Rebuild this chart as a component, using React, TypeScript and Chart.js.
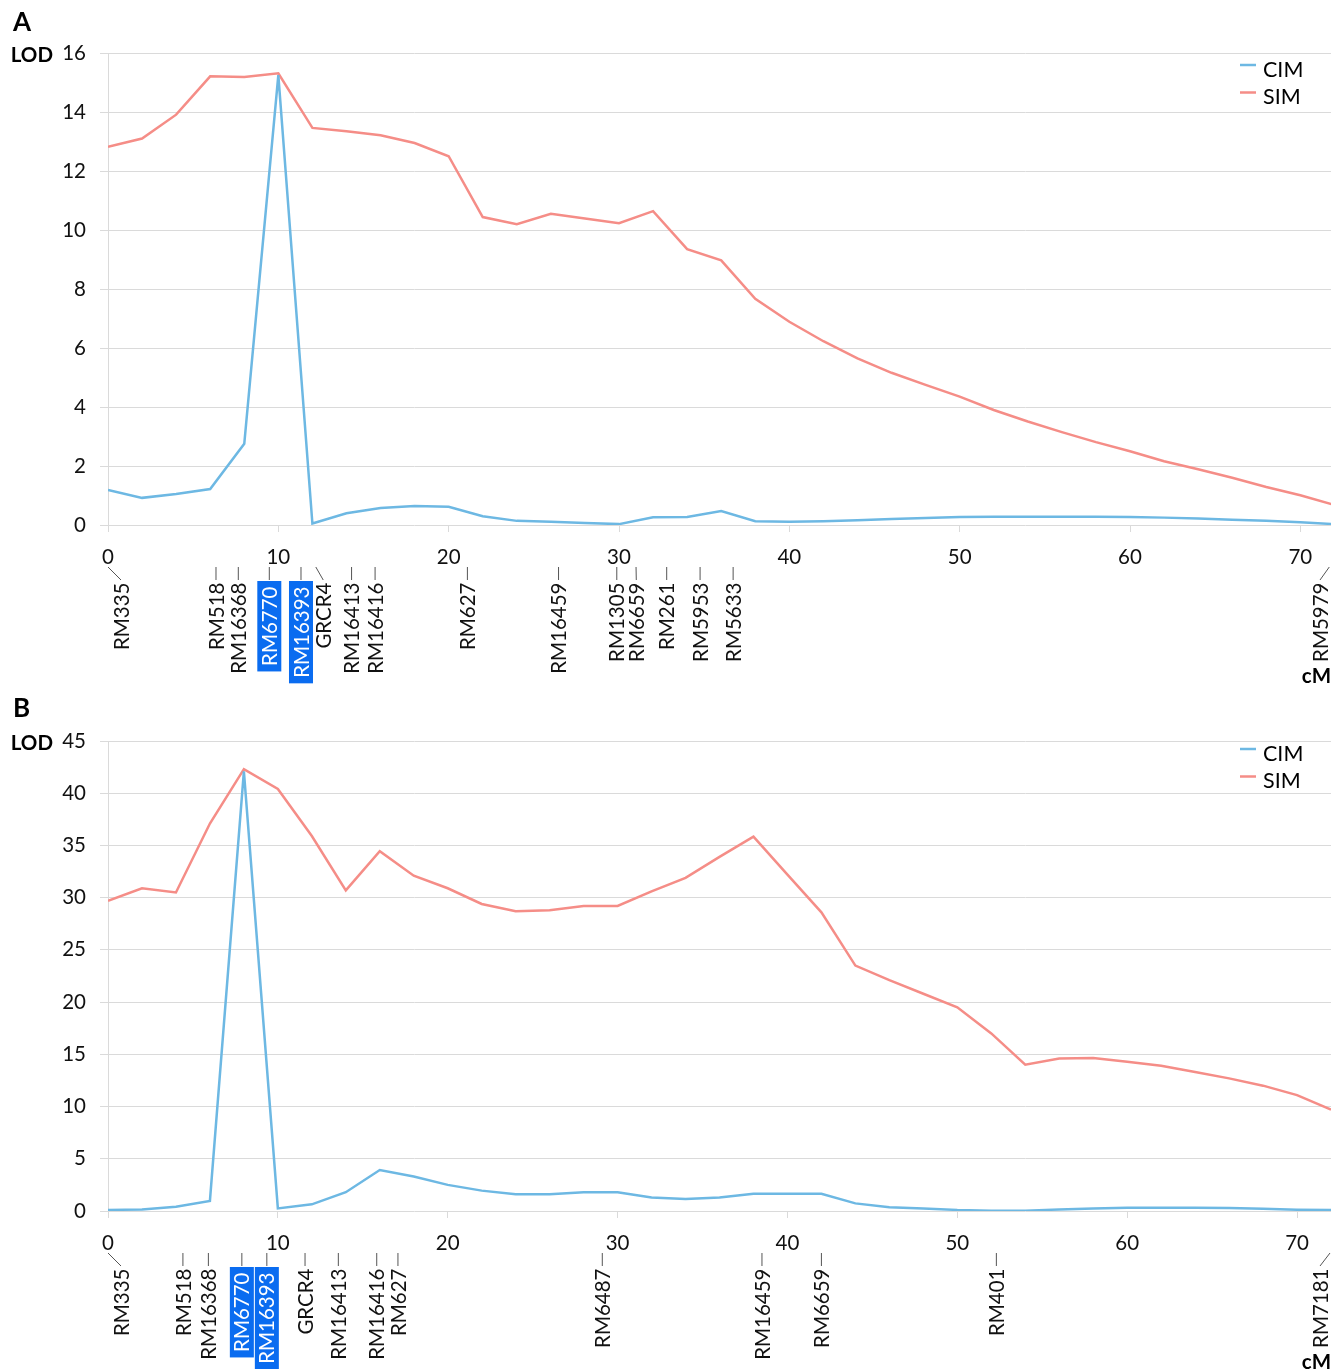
import React, { useEffect, useRef } from "react";
import { Chart, registerables } from "chart.js";

Chart.register(...registerables);

const FONT = "Lato, 'Open Sans', 'DejaVu Sans', sans-serif";

// ---------- data ----------
const POSITIONS_CM = [0, 2, 4, 6, 8, 10, 12, 14, 16, 18, 20, 22, 24, 26, 28, 30, 32, 34, 36, 38, 40, 42, 44, 46, 48, 50, 52, 54, 56, 58, 60, 62, 64, 66, 68, 70, 72];

const CIM_A = [1.19, 0.92, 1.05, 1.22, 2.75, 15.25, 0.05, 0.4, 0.58, 0.64, 0.62, 0.3, 0.14, 0.11, 0.07, 0.03, 0.26, 0.27, 0.47, 0.13, 0.11, 0.13, 0.16, 0.2, 0.24, 0.27, 0.28, 0.28, 0.28, 0.28, 0.27, 0.25, 0.22, 0.18, 0.14, 0.09, 0.03];
const SIM_A = [12.82, 13.1, 13.91, 15.21, 15.19, 15.31, 13.46, 13.35, 13.21, 12.95, 12.5, 10.44, 10.2, 10.55, 10.39, 10.23, 10.64, 9.35, 8.97, 7.67, 6.89, 6.23, 5.65, 5.16, 4.75, 4.35, 3.9, 3.51, 3.15, 2.81, 2.5, 2.16, 1.89, 1.6, 1.29, 1.01, 0.68];

const CIM_B = [0.1, 0.15, 0.4, 0.96, 42.1, 0.25, 0.64, 1.8, 3.93, 3.3, 2.5, 1.95, 1.6, 1.6, 1.8, 1.8, 1.3, 1.15, 1.3, 1.66, 1.64, 1.64, 0.73, 0.35, 0.25, 0.1, 0.03, 0.03, 0.15, 0.25, 0.3, 0.3, 0.3, 0.28, 0.22, 0.13, 0.1];
const SIM_B = [29.7, 30.9, 30.5, 37.1, 42.3, 40.4, 35.9, 30.7, 34.45, 32.1, 30.9, 29.4, 28.7, 28.8, 29.2, 29.2, 30.6, 31.9, 33.9, 35.85, 32.2, 28.6, 23.5, 22.1, 20.8, 19.5, 17.0, 14.0, 14.6, 14.65, 14.3, 13.9, 13.3, 12.7, 12.0, 11.1, 9.7];

const MARKERS_A = ["RM335", "RM518", "RM16368", "RM6770", "RM16393", "GRCR4", "RM16413", "RM16416", "RM627", "RM16459", "RM1305", "RM6659", "RM261", "RM5953", "RM5633", "RM5979"];
const MARKER_CM_A = [0, 6.34, 7.65, 9.47, 11.33, 12.2, 14.3, 15.68, 21.1, 26.45, 29.87, 31.0, 32.8, 34.76, 36.7, 71.7];

const MARKERS_B = ["RM335", "RM518", "RM16368", "RM6770", "RM16393", "GRCR4", "RM16413", "RM16416", "RM627", "RM6487", "RM16459", "RM6659", "RM401", "RM7181"];
const MARKER_CM_B = [0, 4.41, 5.91, 7.88, 9.35, 11.6, 13.56, 15.82, 17.07, 29.1, 38.5, 42.0, 52.3, 72.0];

const HIGHLIGHTED = ["RM6770", "RM16393"];

const SERIES_LABELS = ["CIM", "SIM"];
const Y_MAX_A = 16;
const Y_STEP_A = 2;
const Y_MAX_B = 45;
const Y_STEP_B = 5;
const X_STEP = 10;
const X_MAX_A = 71.8;
const X_MAX_B = 72;

// ---------- styles ----------
const CIM_COLOR = "#6db8e3";
const SIM_COLOR = "#f58d87";
const GRID = "#dadada";
const HILITE = "#0a6cf0";

type PanelCfg = {
  letter: string;
  cim: number[];
  sim: number[];
  markers: string[];
  markerCm: number[];
  yMax: number;
  yStep: number;
  xMax: number;
  canvasTop: number;
  canvasHeight: number;
  chartTop: number;
  chartBottom: number;
  yAxisWidth: number;
  letterY: number;
  legendOffset: number;
};

function makeDecor(cfg: PanelCfg) {
  return {
    id: "decor" + cfg.letter,
    afterDraw(chart: any) {
      const { ctx, chartArea, scales } = chart;
      const xs = scales.x;
      const { left, right, top, bottom } = chartArea;
      ctx.save();
      ctx.fillStyle = "#000";
      // panel letter
      ctx.font = `bold 26px ${FONT}`;
      ctx.textAlign = "left";
      ctx.textBaseline = "middle";
      ctx.fillText(cfg.letter, 13, cfg.letterY);
      // LOD title
      ctx.font = `bold 20.5px ${FONT}`;
      ctx.textAlign = "right";
      ctx.fillText("LOD", left - 55, top + 2);
      // cM title
      ctx.font = `bold 20.5px ${FONT}`;
      ctx.textAlign = "right";
      ctx.fillText("cM", right, bottom + 151);
      // legend
      chart.data.datasets.forEach((ds: any, i: number) => {
        const y = top + cfg.legendOffset + i * 27.5;
        ctx.strokeStyle = ds.borderColor;
        ctx.lineWidth = 2.5;
        ctx.beginPath();
        ctx.moveTo(right - 91, y - 5);
        ctx.lineTo(right - 75, y - 5);
        ctx.stroke();
        ctx.fillStyle = "#000";
        ctx.font = `21.5px ${FONT}`;
        ctx.textAlign = "left";
        ctx.textBaseline = "middle";
        ctx.fillText(ds.label, right - 68, y);
      });
      // markers
      const names = cfg.markers;
      const px = cfg.markerCm.map((c) => xs.getPixelForValue(c));
      const lo = left + 13;
      const hi = right - 11;
      const w = names.map((n) => (HIGHLIGHTED.includes(n) ? 25 : 19.5));
      const lab = px.map((p) => Math.min(hi, Math.max(lo, p)));
      for (let i = 1; i < lab.length; i++) {
        const g = (w[i] + w[i - 1]) / 2;
        if (lab[i] < lab[i - 1] + g) lab[i] = lab[i - 1] + g;
      }
      for (let i = lab.length - 2; i >= 0; i--) {
        const g = (w[i] + w[i + 1]) / 2;
        if (lab[i] > lab[i + 1] - g) lab[i] = lab[i + 1] - g;
      }
      ctx.font = `20.5px ${FONT}`;
      names.forEach((name, i) => {
        const tx = Math.min(right - 1, Math.max(left, px[i]));
        const lx = lab[i];
        ctx.strokeStyle = "#555";
        ctx.lineWidth = 1;
        ctx.beginPath();
        ctx.moveTo(tx, bottom + 42);
        ctx.lineTo(lx, bottom + 55);
        ctx.stroke();
        const hl = HIGHLIGHTED.includes(name);
        const tw = ctx.measureText(name).width;
        let endY = bottom + 57.5;
        if (hl) {
          endY = bottom + 61.5;
          ctx.fillStyle = HILITE;
          ctx.fillRect(lx - 12, bottom + 56, 24, tw + 11);
        }
        ctx.save();
        ctx.translate(lx, endY);
        ctx.rotate(-Math.PI / 2);
        ctx.textAlign = "right";
        ctx.textBaseline = "middle";
        ctx.fillStyle = hl ? "#fff" : "#111";
        ctx.fillText(name, 0, 1);
        ctx.restore();
      });
      ctx.restore();
    },
  };
}

function LodPanel({ cfg }: { cfg: PanelCfg }) {
  const ref = useRef<HTMLCanvasElement | null>(null);
  useEffect(() => {
    if (!ref.current) return;
    const pts = (vals: number[]) => POSITIONS_CM.map((x, i) => ({ x, y: vals[i] }));
    const chart = new Chart(ref.current, {
      type: "line",
      data: {
        datasets: [
          { label: SERIES_LABELS[0], data: pts(cfg.cim), borderColor: CIM_COLOR, backgroundColor: CIM_COLOR, borderWidth: 2.5, pointRadius: 0, tension: 0 },
          { label: SERIES_LABELS[1], data: pts(cfg.sim), borderColor: SIM_COLOR, backgroundColor: SIM_COLOR, borderWidth: 2.5, pointRadius: 0, tension: 0 },
        ],
      },
      options: {
        animation: false,
        responsive: false,
        devicePixelRatio: 1,
        events: [],
        layout: { padding: { left: 0, right: 0, top: cfg.chartTop, bottom: 0 } },
        plugins: { legend: { display: false }, tooltip: { enabled: false } },
        scales: {
          x: {
            type: "linear",
            min: 0,
            max: cfg.xMax,
            afterFit: (s: any) => {
              s.height = cfg.canvasHeight - cfg.chartBottom;
            },
            ticks: {
              stepSize: X_STEP,
              includeBounds: false,
              maxRotation: 0,
              autoSkip: false,
              padding: 13.5,
              color: "#111",
              font: { family: FONT, size: 20.5 },
            },
            grid: { drawOnChartArea: false, drawTicks: true, tickLength: 7, color: GRID },
            border: { display: false },
          },
          y: {
            type: "linear",
            min: 0,
            max: cfg.yMax,
            afterFit: (s: any) => {
              s.width = cfg.yAxisWidth;
            },
            ticks: {
              stepSize: cfg.yStep,
              padding: 14,
              color: "#111",
              font: { family: FONT, size: 20.5 },
            },
            grid: { color: GRID, lineWidth: 1, tickLength: 8 },
            border: { display: true, color: GRID, width: 1 },
          },
        },
      },
      plugins: [makeDecor(cfg)],
    } as any);
    return () => chart.destroy();
  }, [cfg]);
  return (
    <canvas
      ref={ref}
      width={1331}
      height={cfg.canvasHeight}
      style={{ position: "absolute", left: 0, top: cfg.canvasTop, width: 1331, height: cfg.canvasHeight }}
    />
  );
}

const PANEL_A: PanelCfg = {
  letter: "A",
  cim: CIM_A,
  sim: SIM_A,
  markers: MARKERS_A,
  markerCm: MARKER_CM_A,
  yMax: Y_MAX_A,
  yStep: Y_STEP_A,
  xMax: X_MAX_A,
  canvasTop: 0,
  canvasHeight: 690,
  chartTop: 53,
  chartBottom: 525,
  yAxisWidth: 108,
  letterY: 22.5,
  legendOffset: 17,
};

const PANEL_B: PanelCfg = {
  letter: "B",
  cim: CIM_B,
  sim: SIM_B,
  markers: MARKERS_B,
  markerCm: MARKER_CM_B,
  yMax: Y_MAX_B,
  yStep: Y_STEP_B,
  xMax: X_MAX_B,
  canvasTop: 690,
  canvasHeight: 679,
  chartTop: 51,
  chartBottom: 521,
  yAxisWidth: 108,
  letterY: 19,
  legendOffset: 13,
};

export default function App() {
  return (
    <div style={{ position: "absolute", left: 0, top: 0, width: 1331, height: 1369, background: "#fff", overflow: "hidden" }}>
      <LodPanel cfg={PANEL_A} />
      <LodPanel cfg={PANEL_B} />
    </div>
  );
}
